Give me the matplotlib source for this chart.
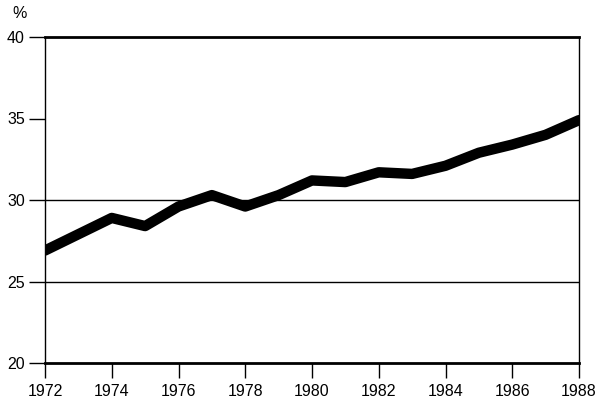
import matplotlib
matplotlib.use("Agg")
import matplotlib.pyplot as plt

years = [1972, 1973, 1974, 1975, 1976, 1977, 1978, 1979, 1980,
         1981, 1982, 1983, 1984, 1985, 1986, 1987, 1988]
share = [26.9, 27.9, 28.9, 28.4, 29.6, 30.3, 29.6, 30.3, 31.2,
         31.1, 31.7, 31.6, 32.1, 32.9, 33.4, 34.0, 34.9]
x_ticks = list(range(1972, 1989, 2))
y_ticks = [20, 25, 30, 35, 40]
grid_levels = [25, 30]

plt.rcParams['font.family'] = ['Liberation Sans', 'DejaVu Sans']

fig = plt.figure(figsize=(5.99, 4.04), dpi=100)
ax = fig.add_axes([45/599, 41/404, 534/599, 326/404])

for v in grid_levels:
    ax.axhline(v, color='black', lw=1.0, zorder=1)

ax.plot(years, share, color='black', lw=7.5, solid_capstyle='round',
        solid_joinstyle='round', zorder=3)

ax.set_xlim(1972, 1988)
ax.set_ylim(20, 40)
ax.set_xticks(x_ticks)
ax.set_yticks(y_ticks)
ax.tick_params(axis='x', direction='out', length=11, width=1, pad=4, labelsize=11.5)
ax.tick_params(axis='y', direction='out', length=11.5, width=1, pad=3, labelsize=11.5)

ax.spines['top'].set_linewidth(2)
ax.spines['bottom'].set_linewidth(2)
ax.spines['left'].set_linewidth(1)
ax.spines['right'].set_linewidth(1)

fig.text(12/599, 1 - 13/404, '%', fontsize=11.5, ha='left', va='center')

fig.savefig('out.png', dpi=100)
